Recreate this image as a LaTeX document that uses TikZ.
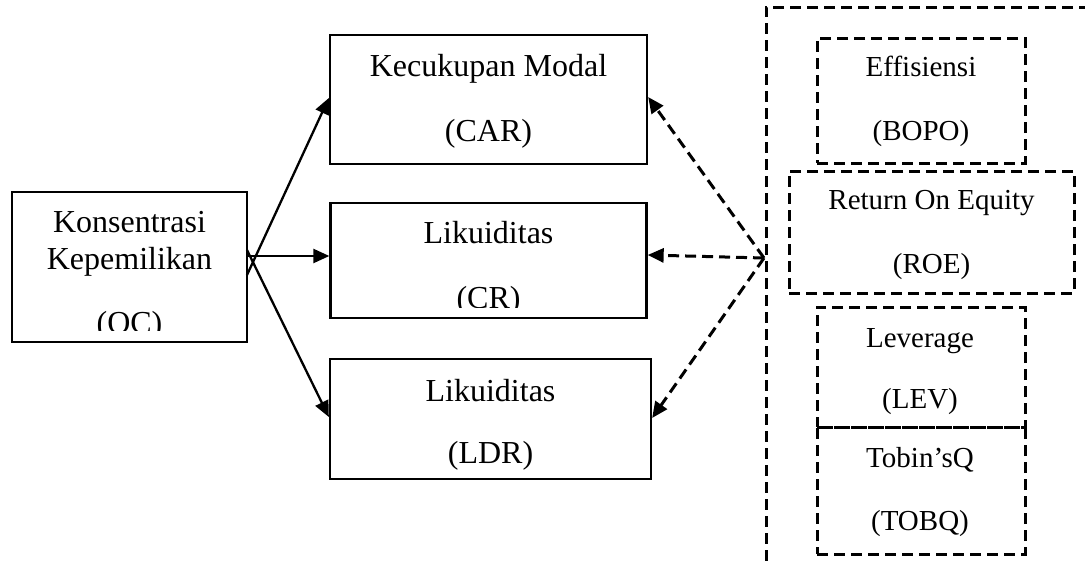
\documentclass[tikz,border=0pt]{standalone}
\usepackage{fontspec}
\setmainfont{Liberation Serif}
\usetikzlibrary{arrows.meta}

\begin{document}
\begin{tikzpicture}[x=1pt, y=-1pt,
    box/.style={rectangle, draw, line width=2.3pt, inner sep=0pt},
    dbox/.style={rectangle, draw, line width=3pt, dash pattern=on 11pt off 6pt, inner sep=0pt},
    bigtxt/.style={font=\fontsize{32pt}{38pt}\selectfont, inner sep=0pt, anchor=base},
    smalltxt/.style={font=\fontsize{29pt}{35pt}\selectfont, inner sep=0pt, anchor=base},
    arr/.style={line width=2.3pt, -{Triangle[length=16pt, width=14pt]}},
    darr/.style={line width=3pt, dash pattern=on 11pt off 6pt, -{Triangle[length=16pt, width=14pt]}}]
    \useasboundingbox (0,0) rectangle (1085,566);

    % Draw nodes
    \node[box, minimum width=235pt, minimum height=150pt] (oc) at (129.5,267) {};
    \node[box, minimum width=317pt, minimum height=129pt] (car) at (488.5,99.5) {};
    \node[box, minimum width=316pt, minimum height=115pt] (cr) at (488.5,260.5) {};
    \node[box, minimum width=321pt, minimum height=120pt] (ldr) at (490.5,419) {};

    % Right group
    \draw[line width=3pt, dash pattern=on 11pt off 6pt] (1090,7) -- (766,7) -- (766,572);
    \node[dbox, minimum width=208pt, minimum height=125pt] (bopo) at (921,100.5) {};
    \node[dbox, minimum width=285pt, minimum height=122pt] (roe) at (931.5,232) {};
    \node[dbox, minimum width=208pt, minimum height=120pt] (lev) at (921,367) {};
    \node[dbox, minimum width=208pt, minimum height=127pt] (tobq) at (921,490.5) {};

    % Labels
    \node[bigtxt] (oc1) at (129.5,232) {Konsentrasi};
    \node[bigtxt] (oc2) at (129.5,269) {Kepemilikan};
    \begin{scope}
        \clip (12,192) rectangle (247,330);
        \node[bigtxt] (oc3) at (129.5,333) {(OC)};
    \end{scope}
    \node[bigtxt] (car1) at (488.5,76) {Kecukupan Modal};
    \node[bigtxt] (car2) at (488.5,141) {(CAR)};
    \node[bigtxt] (cr1) at (488.5,243) {Likuiditas};
    \begin{scope}
        \clip (330,203) rectangle (647,307);
        \node[bigtxt] (cr2) at (488.5,308) {(CR)};
    \end{scope}
    \node[bigtxt] (ldr1) at (490.5,401) {Likuiditas};
    \node[bigtxt] (ldr2) at (490.5,463) {(LDR)};

    \node[smalltxt] (bopo1) at (921,76) {Effisiensi};
    \node[smalltxt] (bopo2) at (921,140) {(BOPO)};
    \node[smalltxt] (roe1) at (931.5,209) {Return On Equity};
    \node[smalltxt] (roe2) at (931.5,273) {(ROE)};
    \node[smalltxt] (lev1) at (920,347) {Leverage};
    \node[smalltxt] (lev2) at (920,408) {(LEV)};
    \node[smalltxt] (tobq1) at (920,467) {Tobin’sQ};
    \node[smalltxt] (tobq2) at (920,530) {(TOBQ)};

    % Draw connections
    \coordinate (ocA) at (247,275);
    \coordinate (ocB) at (247,256);
    \coordinate (ocC) at (247,250);
    \coordinate (hub) at (764,258);
    \draw[arr] (ocA) -- ([yshift=1.5pt]car.west);
    \draw[arr] (ocB) -- ([yshift=4.5pt]cr.west);
    \draw[arr] (ocC) -- ([yshift=2pt]ldr.west);
    \draw[darr] (hub) -- ([yshift=2.5pt]car.east);
    \draw[darr] (hub) -- ([yshift=5.5pt]cr.east);
    \draw[darr] (hub) -- ([yshift=1pt]ldr.east);
\end{tikzpicture}
\end{document}
